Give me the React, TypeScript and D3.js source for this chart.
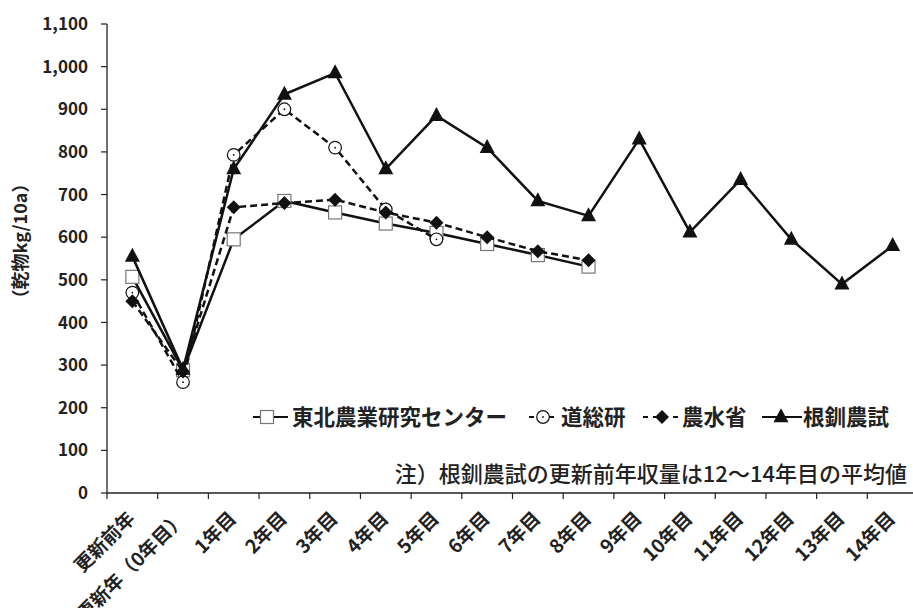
import React from "react";
import * as d3 from "d3";

const categories = [
  "更新前年", "更新年（0年目）", "1年目", "2年目", "3年目", "4年目", "5年目", "6年目",
  "7年目", "8年目", "9年目", "10年目", "11年目", "12年目", "13年目", "14年目",
];
const tohoku = [507, 288, 595, 685, 658, 632, 610, 584, 558, 531];
const doso = [470, 260, 793, 900, 810, 665, 595];
const nosui = [450, 285, 670, 680, 688, 658, 634, 600, 567, 546];
const konsen = [555, 290, 760, 935, 985, 760, 885, 810, 685, 650, 830, 612, 735, 595, 490, 580];
const yTicks = [0, 100, 200, 300, 400, 500, 600, 700, 800, 900, 1000, 1100];
const seriesNames = ["東北農業研究センター", "道総研", "農水省", "根釧農試"];
const yTitle = "（乾物kg/10a）";
const note = "注）根釧農試の更新前年収量は12～14年目の平均値";

const W = 913, H = 608;
const FONT = "'Noto Sans CJK JP', 'Noto Sans', sans-serif";

type MarkerKind = "square" | "circle" | "diamond" | "triangle";

function Marker({ kind, x, y }: { kind: MarkerKind; x: number; y: number }) {
  if (kind === "square") {
    return <rect x={x - 6.5} y={y - 6.5} width={13} height={13} fill="#fff" stroke="#777" strokeWidth={1.2} />;
  }
  if (kind === "circle") {
    return (
      <g>
        <circle cx={x} cy={y} r={6.3} fill="#fff" stroke="#111" strokeWidth={1.2} />
        <circle cx={x} cy={y} r={0.9} fill="#111" />
      </g>
    );
  }
  if (kind === "diamond") {
    const s = 7;
    return <path d={`M${x},${y - s}L${x + s},${y}L${x},${y + s}L${x - s},${y}Z`} fill="#111" />;
  }
  const h = 14, w = 15;
  return <path d={`M${x},${y - h * 0.62}L${x + w / 2},${y + h * 0.38}L${x - w / 2},${y + h * 0.38}Z`} fill="#111" />;
}

export default function App() {
  const x0 = 107, x1 = 918, yTop = 24, yBot = 493;
  const x = d3.scaleBand<string>().domain(categories).range([x0, x1]).padding(0);
  const y = d3.scaleLinear().domain([0, 1100]).range([yBot, yTop]);
  const cx = (i: number) => (x(categories[i]) as number) + x.bandwidth() / 2;

  const series: { name: string; values: number[]; kind: MarkerKind; dash?: string }[] = [
    { name: seriesNames[0], values: tohoku, kind: "square" },
    { name: seriesNames[1], values: doso, kind: "circle", dash: "7,4" },
    { name: seriesNames[2], values: nosui, kind: "diamond", dash: "7,4" },
    { name: seriesNames[3], values: konsen, kind: "triangle" },
  ];

  const line = d3.line<number>().x((_, i) => cx(i)).y((d) => y(d));

  const legendItems = [
    { kind: "square" as MarkerKind, l0: 253, l1: 288, mx: 267, tx: 292, dash: undefined },
    { kind: "circle" as MarkerKind, l0: 529, l1: 558, mx: 543, tx: 561, dash: "5,5" },
    { kind: "diamond" as MarkerKind, l0: 643, l1: 680, mx: 662, tx: 682, dash: "5,5" },
    { kind: "triangle" as MarkerKind, l0: 762, l1: 802, mx: 781, tx: 803, dash: undefined },
  ];
  const ly = 417;

  return (
    <svg width={W} height={H} style={{ position: "absolute", left: 0, top: 0, background: "#fff" }} fontFamily={FONT}>
      <rect width={W} height={H} fill="#fff" />
      {/* y axis */}
      <line x1={x0} x2={x0} y1={yTop} y2={yBot} stroke="#222" strokeWidth={1.3} />
      {yTicks.map((t) => (
        <g key={t}>
          <line x1={x0 - 6} x2={x0} y1={y(t)} y2={y(t)} stroke="#222" strokeWidth={1.2} />
          <text x={88} y={y(t)} dy="0.36em" textAnchor="end" fontSize={17} fontWeight={700} fill="#222">
            {d3.format(",")(t)}
          </text>
        </g>
      ))}
      <text transform={`translate(27,241) rotate(-90)`} textAnchor="middle" fontSize={18} fontWeight={700} fill="#222">
        {yTitle}
      </text>
      {/* x axis */}
      <line x1={x0} x2={x1} y1={yBot} y2={yBot} stroke="#222" strokeWidth={1.3} />
      {d3.range(categories.length + 1).map((i) => {
        const xx = x0 + i * x.bandwidth();
        return <line key={i} x1={xx} x2={xx} y1={yBot} y2={yBot + 6} stroke="#222" strokeWidth={1.2} />;
      })}
      {categories.map((c, i) => (
        <text key={c} transform={`translate(${cx(i) - 1},${yBot + 22}) rotate(-45)`} textAnchor="end" dy="0.36em"
          fontSize={19} fontWeight={700} fill="#222">
          {c}
        </text>
      ))}
      {/* series */}
      {series.map((s) => (
        <g key={s.name}>
          <path d={line(s.values) as string} fill="none" stroke="#111" strokeWidth={2.5} strokeDasharray={s.dash} />
          {s.values.map((v, i) => (
            <Marker key={i} kind={s.kind} x={cx(i)} y={y(v)} />
          ))}
        </g>
      ))}
      {/* legend */}
      {legendItems.map((it, k) => (
        <g key={k}>
          <line x1={it.l0} x2={it.l1} y1={ly} y2={ly} stroke="#111" strokeWidth={2} strokeDasharray={it.dash} />
          <Marker kind={it.kind} x={it.mx} y={ly} />
          <text x={it.tx} y={ly} dy="0.37em" fontSize={21.5} fontWeight={700} fill="#222">
            {seriesNames[k]}
          </text>
        </g>
      ))}
      <text x={907} y={474} dy="0.37em" textAnchor="end" fontSize={22} fontWeight={500} fill="#222">
        {note}
      </text>
    </svg>
  );
}
